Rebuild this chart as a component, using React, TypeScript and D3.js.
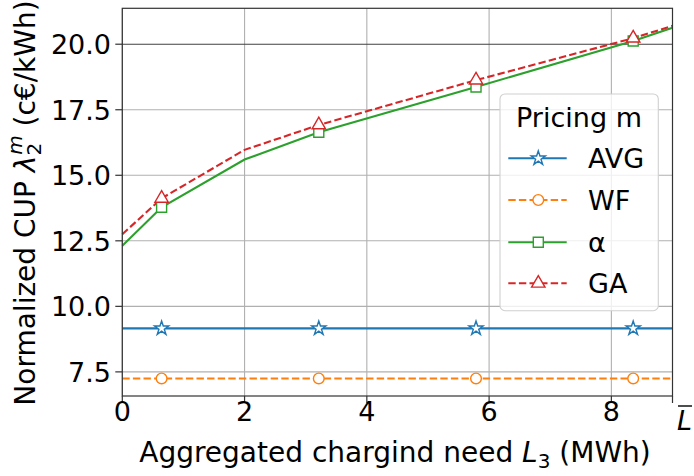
import React from "react";
import * as d3 from "d3";

const xs = [0, 0.643, 2, 3.214, 5.786, 8.357, 9];
const markerIdx = [1, 3, 4, 5];
const avgVals = [9.16, 9.16, 9.16, 9.16, 9.16, 9.16, 9.16];
const wfVals = [7.25, 7.25, 7.25, 7.25, 7.25, 7.25, 7.25];
const alphaVals = [12.31, 13.78, 15.6, 16.64, 18.37, 20.12, 20.63];
const gaVals = [12.75, 14.12, 15.97, 16.92, 18.63, 20.23, 20.7];

const seriesNames = ["AVG", "WF", "α", "GA"];
const xTicks = [0, 2, 4, 6, 8];
const yTicks = [7.5, 10.0, 12.5, 15.0, 17.5, 20.0];

const W = 694;
const H = 476;
const L = 122.3;
const R = 672.5;
const T = 8.3;
const B = 396;
const FONT = "'DejaVu Sans', sans-serif";
const FS = 27;
const FSL = 28;

const series = [
  { name: seriesNames[0], vals: avgVals, color: "#1f77b4", dash: null, sym: d3.symbolStar, size: 62 },
  { name: seriesNames[1], vals: wfVals, color: "#ff7f0e", dash: "7.4,3.2", sym: d3.symbolCircle, size: 90 },
  { name: seriesNames[2], vals: alphaVals, color: "#2ca02c", dash: null, sym: d3.symbolSquare, size: 100 },
  { name: seriesNames[3], vals: gaVals, color: "#d62728", dash: "7.4,3.2", sym: d3.symbolTriangle, size: 78 },
];

export default function App() {
  const x = d3.scaleLinear().domain([0, 9]).range([L, R]);
  const y = d3.scaleLinear().domain([6.58, 21.37]).range([B, T]);
  const line = d3
    .line<number>()
    .x((_, i) => x(xs[i]))
    .y((v) => y(v));

  const legX = 500;
  const legY = 94;
  const legRows = [158.3, 200, 242.3, 283.3];

  return (
    <svg
      width={W}
      height={H}
      style={{ position: "absolute", left: 0, top: 0, background: "#fff" }}
      fontFamily={FONT}
    >
      <rect x={0} y={0} width={W} height={H} fill="#fff" />
      {/* grid */}
      {xTicks.map((t) => (
        <line key={"gx" + t} x1={x(t)} x2={x(t)} y1={T} y2={B} stroke="#b0b0b0" strokeWidth={1.1} />
      ))}
      {yTicks.map((t) => (
        <line key={"gy" + t} x1={L} x2={R} y1={y(t)} y2={y(t)} stroke={t === 20 ? "#404040" : "#b0b0b0"} strokeWidth={1.1} />
      ))}
      {/* lines */}
      {series.map((s) => (
        <path
          key={"l" + s.name}
          d={line(s.vals) || ""}
          fill="none"
          stroke={s.color}
          strokeWidth={2.1}
          strokeDasharray={s.dash || undefined}
        />
      ))}
      {series.map((s) =>
        markerIdx.map((i) => (
          <path
            key={"m" + s.name + i}
            d={d3.symbol().type(s.sym).size(s.size)() || ""}
            transform={`translate(${x(xs[i])},${y(s.vals[i])})`}
            fill="#fff"
            stroke={s.color}
            strokeWidth={1.4}
          />
        ))
      )}
      {/* spines */}
      <rect x={L} y={T} width={R - L} height={B - T} fill="none" stroke="#333" strokeWidth={1.2} />
      {/* x ticks */}
      {[...xTicks, 9].map((t) => (
        <line key={"tx" + t} x1={x(t)} x2={x(t)} y1={B} y2={B + 7} stroke="#333" strokeWidth={1.2} />
      ))}
      {xTicks.map((t) => (
        <text key={"lx" + t} x={x(t)} y={421} fontSize={FS} textAnchor="middle" fill="#000">
          {t}
        </text>
      ))}
      <text x={677} y={430} fontSize={FS} fontStyle="italic" fill="#000">
        L
      </text>
      <line x1={678} x2={692} y1={406} y2={406} stroke="#000" strokeWidth={1.4} />
      {/* y ticks */}
      {yTicks.map((t) => (
        <line key={"ty" + t} x1={L - 7} x2={L} y1={y(t)} y2={y(t)} stroke="#333" strokeWidth={1.2} />
      ))}
      {yTicks.map((t) => (
        <text key={"ly" + t} x={111} y={y(t) + 10} fontSize={FS} textAnchor="end" fill="#000">
          {t.toFixed(1)}
        </text>
      ))}
      {/* axis labels */}
      <text x={395} y={462} fontSize={FSL} textAnchor="middle" fill="#000">
        Aggregated chargind need <tspan fontStyle="italic">L</tspan>
        <tspan fontSize={20} dy={6}>3</tspan>
        <tspan dy={-6}> (MWh)</tspan>
      </text>
      <text
        transform={`translate(35,${203}) rotate(-90)`}
        fontSize={FSL}
        textAnchor="middle"
        fill="#000"
      >
        Normalized CUP <tspan fontStyle="italic">λ</tspan>
        <tspan fontSize={20} dy={6}>2</tspan>
        <tspan fontSize={20} fontStyle="italic" dx={-12} dy={-19}>m</tspan>
        <tspan dy={13}> (c€/kWh)</tspan>
      </text>
      {/* legend */}
      <rect
        x={legX}
        y={legY}
        width={158.3}
        height={216.7}
        rx={5}
        fill="#fff"
        fillOpacity={0.8}
        stroke="#d0d0d0"
        strokeWidth={1.1}
      />
      <text x={legX + 79} y={127} fontSize={FS} textAnchor="middle" fill="#000">
        Pricing m
      </text>
      {series.map((s, k) => (
        <g key={"lg" + s.name}>
          <line
            x1={508.3}
            x2={566.7}
            y1={legRows[k]}
            y2={legRows[k]}
            stroke={s.color}
            strokeWidth={2.1}
            strokeDasharray={s.dash || undefined}
          />
          <path
            d={d3.symbol().type(s.sym).size(s.size)() || ""}
            transform={`translate(538.3,${legRows[k]})`}
            fill="#fff"
            stroke={s.color}
            strokeWidth={1.4}
          />
          <text x={588} y={legRows[k] + 10} fontSize={FS} fill="#000">
            {s.name}
          </text>
        </g>
      ))}
    </svg>
  );
}
